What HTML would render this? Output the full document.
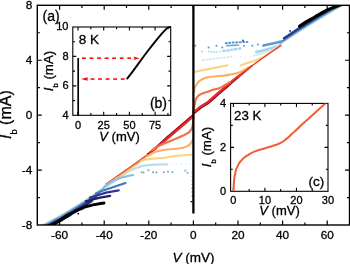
<!DOCTYPE html>
<html><head><meta charset="utf-8"><style>
html,body{margin:0;padding:0;background:#fff;width:350px;height:264px;overflow:hidden}
svg{display:block;will-change:transform}
text{font-family:"Liberation Sans",sans-serif;fill:#000;stroke:#000;stroke-width:0.3px;paint-order:stroke}
</style></head><body>
<svg width="350" height="264" viewBox="0 0 350 264" font-family="Liberation Sans, sans-serif"><defs><clipPath id="cm"><rect x="37.3" y="5.3" width="312.2" height="219.7"/></clipPath></defs>
<g clip-path="url(#cm)">
<path d="M279.00,45.45 L283.00,42.82 L287.00,40.18 L291.00,37.55 L295.00,34.92 L299.00,32.29 L303.00,29.76 L307.00,27.25 L311.00,24.74 L315.00,22.23 L319.00,19.82 L323.00,17.45 L327.00,15.08 L331.00,12.71 L335.00,10.39 L339.00,8.11 L343.00,5.84 L347.00,3.59 L351.00,1.36 L352.00,0.80" fill="none" stroke="#ffffbf" stroke-width="0.8" stroke-linejoin="round" stroke-linecap="round" />
<path d="M279.00,44.95 L283.00,42.32 L287.00,39.68 L291.00,37.05 L295.00,34.42 L299.00,31.79 L303.00,29.26 L307.00,26.75 L311.00,24.24 L315.00,21.73 L319.00,19.32 L323.00,16.95 L327.00,14.58 L331.00,12.21 L335.00,9.89 L339.00,7.61 L343.00,5.34 L347.00,3.09 L351.00,0.86 L352.00,0.30" fill="none" stroke="#abd9e9" stroke-width="1.1" stroke-linejoin="round" stroke-linecap="round" />
<path d="M280.00,43.39 L284.00,40.76 L288.00,38.13 L292.00,35.50 L296.00,32.87 L300.00,30.25 L304.00,27.74 L308.00,25.22 L312.00,22.71 L316.00,20.20 L320.00,17.83 L324.00,15.46 L328.00,13.09 L332.00,10.71 L336.00,8.42 L340.00,6.15 L344.00,3.87 L348.00,1.63 L352.00,-0.60" fill="none" stroke="#74add1" stroke-width="1.2" stroke-linejoin="round" stroke-linecap="round" />
<path d="M281.00,41.73 L285.00,39.10 L289.00,36.47 L293.00,33.84 L297.00,31.21 L301.00,28.62 L305.00,26.11 L309.00,23.60 L313.00,21.08 L317.00,18.61 L321.00,16.24 L325.00,13.86 L329.00,11.49 L333.00,9.13 L337.00,6.85 L341.00,4.58 L345.00,2.30 L349.00,0.07 L352.00,-1.60" fill="none" stroke="#4575b4" stroke-width="1.4" stroke-linejoin="round" stroke-linecap="round" />
<path d="M284.00,38.26 L288.00,35.63 L292.00,33.00 L296.00,30.37 L300.00,27.75 L304.00,25.24 L308.00,22.72 L312.00,20.21 L316.00,17.70 L320.00,15.33 L324.00,12.96 L328.00,10.59 L332.00,8.21 L336.00,5.92 L340.00,3.65 L344.00,1.37 L348.00,-0.87 L352.00,-3.10" fill="none" stroke="#283a8c" stroke-width="2.4" stroke-linejoin="round" stroke-linecap="round" />
<path d="M299.60,26.30 C301.40,25.07 301.30,24.90 305.00,22.60 C308.70,20.30 305.93,22.13 310.70,19.40 C315.47,16.67 313.57,17.63 319.30,14.40 C325.03,11.17 322.17,12.40 327.90,9.70 C333.63,7.00 331.80,8.10 336.50,6.30 C341.20,4.50 340.17,4.97 342.00,4.30" fill="none" stroke="#000" stroke-width="3.2" stroke-linejoin="round" stroke-linecap="round" />
<circle cx="290.1" cy="30.9" r="1" fill="#313695"/>
<path d="M104.42,187.96 C105.39,187.29 100.06,190.99 107.32,185.95 C114.59,180.92 119.52,177.51 126.23,172.85 C132.93,168.20 125.51,173.02 127.44,172.00 C129.36,170.98 128.48,171.33 132.00,169.80 C135.52,168.27 134.33,168.70 138.00,167.40 C141.67,166.10 139.70,166.63 143.00,165.90 C146.30,165.17 143.57,165.63 147.90,165.20 C152.23,164.77 149.63,164.90 156.00,164.60 C162.37,164.30 163.33,164.40 167.00,164.30" fill="none" stroke="#b9dcef" stroke-width="2.3" stroke-linejoin="round" stroke-linecap="round" />
<path d="M112.80,180.82 L125.60,171.95 L138.81,162.64 L142.83,159.66" fill="none" stroke="#fdd27f" stroke-width="1.8" stroke-linejoin="round" stroke-linecap="round" />
<path d="M135.29,164.02 L138.30,161.90 L155.30,149.30 L156.32,148.45" fill="none" stroke="#f46d43" stroke-width="1.8" stroke-linejoin="round" stroke-linecap="round" />
<path d="M118.46,176.17 L125.26,171.46 L138.47,162.15 L148.48,154.73" fill="none" stroke="#fdae61" stroke-width="1.6" stroke-linejoin="round" stroke-linecap="round" />
<path d="M38.00,226.40 L42.00,224.46 L46.00,222.46 L50.00,220.39 L54.00,218.25 L58.00,216.06 L62.00,213.80 L66.00,211.49 L70.00,209.12 L74.00,206.67 L78.00,204.16 L82.00,201.60 L86.00,198.97 L90.00,196.29 L94.00,193.53 L98.00,190.71 L102.00,187.83 L105.00,185.64" fill="none" stroke="#ffffbf" stroke-width="0.8" stroke-linejoin="round" stroke-linecap="round" />
<path d="M38.00,227.10 L42.00,225.16 L46.00,223.16 L50.00,221.09 L54.00,218.95 L58.00,216.76 L62.00,214.50 L66.00,212.19 L70.00,209.82 L74.00,207.37 L78.00,204.86 L82.00,202.30 L86.00,199.67 L90.00,196.99 L94.00,194.23 L98.00,191.41 L102.00,188.53 L105.00,186.34" fill="none" stroke="#abd9e9" stroke-width="1.2" stroke-linejoin="round" stroke-linecap="round" />
<path d="M38.00,228.10 L42.00,226.16 L46.00,224.16 L50.00,222.09 L54.00,219.95 L58.00,217.76 L62.00,215.50 L66.00,213.19 L70.00,210.82 L74.00,208.37 L78.00,205.86 L82.00,203.30 L86.00,200.67 L90.00,197.99 L94.00,195.23 L98.00,192.41 L102.00,189.53 L104.00,188.08" fill="none" stroke="#74add1" stroke-width="1.4" stroke-linejoin="round" stroke-linecap="round" />
<path d="M38.00,229.30 L42.00,227.36 L46.00,225.36 L50.00,223.29 L54.00,221.15 L58.00,218.96 L62.00,216.70 L66.00,214.39 L70.00,212.02 L74.00,209.57 L78.00,207.06 L82.00,204.50 L86.00,201.87 L90.00,199.19 L94.00,196.43 L98.00,193.61 L100.00,192.19" fill="none" stroke="#4575b4" stroke-width="1.8" stroke-linejoin="round" stroke-linecap="round" />
<path d="M38.00,231.00 L42.00,229.06 L46.00,227.06 L50.00,224.99 L54.00,222.85 L58.00,220.66 L62.00,218.40 L66.00,216.09 L70.00,213.72 L74.00,211.27 L78.00,208.76 L82.00,206.20 L86.00,203.57 L90.00,200.89 L94.00,198.13 L96.00,196.73" fill="none" stroke="#313695" stroke-width="2.4" stroke-linejoin="round" stroke-linecap="round" />
<path d="M60.00,220.85 L64.00,218.55 L68.00,216.20 L72.00,213.80 L76.00,211.33 L80.00,208.80 L84.00,206.19 L88.00,203.53 L92.00,200.81" fill="none" stroke="#1e2a78" stroke-width="2.4" stroke-linejoin="round" stroke-linecap="round" />
<path d="M105.90,183.90 L124.80,170.80 L138.00,161.50 L155.00,148.90 L170.00,136.40 L184.00,124.40 L193.40,116.30" fill="none" stroke="#e4482f" stroke-width="1.1" stroke-linejoin="round" stroke-linecap="round" />
<path d="M104.00,187.00 C106.00,185.53 105.33,185.33 110.00,182.60 C114.67,179.87 112.67,180.83 118.00,178.80 C123.33,176.77 120.93,177.80 126.00,176.50 C131.07,175.20 130.80,175.43 133.20,174.90" fill="none" stroke="#87bde0" stroke-width="2.0" stroke-linejoin="round" stroke-linecap="round" />
<path d="M96.00,193.40 L98.20,192.40 L112.00,187.50 L125.50,183.00" fill="none" stroke="#4575b4" stroke-width="2.0" stroke-linejoin="round" stroke-linecap="round" />
<path d="M90.00,197.60 L93.10,196.70 L106.00,192.60 L118.70,190.40" fill="none" stroke="#313695" stroke-width="2.2" stroke-linejoin="round" stroke-linecap="round" />
<path d="M86.00,201.20 L88.00,200.80 L100.00,197.60 L110.20,195.80" fill="none" stroke="#1e2466" stroke-width="2.2" stroke-linejoin="round" stroke-linecap="round" />
<path d="M40.00,231.00 C41.33,230.20 41.33,230.07 44.00,228.60 C46.67,227.13 45.33,227.93 48.00,226.60 C50.67,225.27 49.33,225.90 52.00,224.60 C54.67,223.30 53.33,224.10 56.00,222.70 C58.67,221.30 57.33,222.03 60.00,220.40 C62.67,218.77 60.67,219.87 64.00,217.80 C67.33,215.73 68.00,215.40 70.00,214.20" fill="none" stroke="#000" stroke-width="3.4" stroke-linejoin="round" stroke-linecap="round" />
<path d="M64.00,217.80 C66.67,216.20 66.67,215.87 72.00,213.00 C77.33,210.13 74.67,211.47 80.00,209.20 C85.33,206.93 82.67,207.83 88.00,206.20 C93.33,204.57 90.67,205.37 96.00,204.30 C101.33,203.23 101.33,203.43 104.00,203.00" fill="none" stroke="#000" stroke-width="2.9" stroke-linejoin="round" stroke-linecap="round" />
<circle cx="78.3" cy="213.7" r="0.9" fill="#000"/>
<path d="M148.00,154.09 L149.69,152.71 L151.37,151.33 L153.06,149.94 L154.74,148.57 L156.33,147.11 L157.94,145.65 L159.54,144.18 L161.14,142.71 L162.74,141.25 L164.35,139.78 L165.95,138.32 L167.57,136.87 L169.23,135.48 L170.77,134.16 L172.33,132.82 L173.89,131.49 L175.44,130.16 L177.00,128.82 L178.55,127.49 L180.11,126.16 L181.66,124.82 L183.22,123.49 L184.78,122.14 L186.35,120.79 L187.92,119.44 L189.48,118.09 L191.05,116.74 L192.62,115.39" fill="none" stroke="#a50026" stroke-width="2.0" stroke-linejoin="round" stroke-linecap="round" />
<path d="M194.15,113.24 L195.80,111.91 L197.45,110.59 L199.10,109.26 L200.70,107.98 L202.65,106.74 L204.65,105.46 L206.65,104.19 L208.72,102.86 L210.44,101.34 L212.08,99.88 L213.72,98.42 L215.36,96.96 L216.99,95.50 L218.65,94.09 L220.31,92.67 L221.98,91.25 L223.65,89.82 L225.31,88.40 L226.98,86.98 L228.65,85.56 L230.26,84.07 L231.85,82.59 L233.47,81.20 L235.12,79.80 L236.76,78.40 L238.40,77.00 L240.05,75.59 L241.69,74.19 L243.33,72.79 L244.97,71.38 L246.62,69.98 L248.26,68.58 L250.00,67.19" fill="none" stroke="#a50026" stroke-width="2.0" stroke-linejoin="round" stroke-linecap="round" />
<path d="M150.00,152.61 L155.00,148.90 L170.00,136.40 L184.00,124.40 L193.40,116.30" fill="none" stroke="#d73027" stroke-width="1.7" stroke-linejoin="round" stroke-linecap="round" />
<path d="M193.40,112.30 L200.00,107.00 L208.00,101.90 L216.20,94.60 L231.20,81.80 L248.20,68.50 L252.00,65.74" fill="none" stroke="#d73027" stroke-width="1.7" stroke-linejoin="round" stroke-linecap="round" />
<path d="M162.00,143.07 L170.00,136.40 L184.00,124.40 L193.40,116.30" fill="none" stroke="#d73027" stroke-width="2.1" stroke-linejoin="round" stroke-linecap="round" />
<path d="M193.40,112.30 L200.00,107.00 L208.00,101.90 L216.20,94.60 L231.20,81.80 L240.00,74.92" fill="none" stroke="#d73027" stroke-width="2.1" stroke-linejoin="round" stroke-linecap="round" />
<path d="M193.40,113.00 C193.57,111.50 193.43,111.50 193.90,108.50 C194.37,105.50 194.13,107.00 194.80,104.00 C195.47,101.00 194.97,101.97 195.90,99.50 C196.83,97.03 196.13,98.27 197.60,96.60 C199.07,94.93 197.97,95.80 200.30,94.50 C202.63,93.20 201.03,94.03 204.60,92.70 C208.17,91.37 207.13,91.73 211.00,90.50 C214.87,89.27 213.20,89.87 216.20,89.00 C219.20,88.13 216.73,89.40 220.00,87.90 C223.27,86.40 222.67,86.47 226.00,84.50 C229.33,82.53 228.67,82.83 230.00,82.00" fill="none" stroke="#f46d43" stroke-width="2.1" stroke-linejoin="round" stroke-linecap="round" />
<path d="M193.40,118.00 C193.30,118.67 193.43,117.20 193.10,120.00 C192.77,122.80 193.33,122.83 192.40,126.40 C191.47,129.97 192.20,128.30 190.30,130.70 C188.40,133.10 189.83,131.67 186.70,133.60 C183.57,135.53 185.70,134.30 180.90,136.50 C176.10,138.70 178.07,137.77 172.30,140.20 C166.53,142.63 168.70,141.53 163.60,143.80 C158.50,146.07 160.87,144.87 157.00,147.00 C153.13,149.13 153.67,149.13 152.00,150.20" fill="none" stroke="#f46d43" stroke-width="2.1" stroke-linejoin="round" stroke-linecap="round" />
<path d="M194.20,91.50 C194.40,90.33 194.03,90.30 194.80,88.00 C195.57,85.70 195.27,86.60 196.50,84.60 C197.73,82.60 197.23,83.43 198.50,82.00 C199.77,80.57 198.47,81.47 200.30,80.30 C202.13,79.13 201.33,79.53 204.00,78.50 C206.67,77.47 204.23,77.97 208.30,77.20 C212.37,76.43 211.63,76.67 216.20,76.20 C220.77,75.73 217.40,76.33 222.00,75.80 C226.60,75.27 224.33,75.73 230.00,74.60 C235.67,73.47 234.33,73.93 239.00,72.40 C243.67,70.87 240.57,71.80 244.00,70.00 C247.43,68.20 247.53,68.00 249.30,67.00" fill="none" stroke="#fdae61" stroke-width="2.1" stroke-linejoin="round" stroke-linecap="round" />
<path d="M192.80,139.50 C192.20,140.67 192.93,140.73 191.00,143.00 C189.07,145.27 190.67,144.57 187.00,146.30 C183.33,148.03 185.67,147.20 180.00,148.20 C174.33,149.20 176.67,148.43 170.00,149.30 C163.33,150.17 165.67,149.57 160.00,150.80 C154.33,152.03 157.33,151.17 153.00,153.00 C148.67,154.83 149.00,155.20 147.00,156.30" fill="none" stroke="#fdae61" stroke-width="2.1" stroke-linejoin="round" stroke-linecap="round" />
<path d="M194.50,72.00 C196.33,71.60 194.83,71.83 200.00,70.80 C205.17,69.77 204.00,70.07 210.00,68.90 C216.00,67.73 213.00,68.30 218.00,67.30 C223.00,66.30 221.83,66.57 225.00,65.90 C228.17,65.23 226.67,65.50 227.50,65.30" fill="none" stroke="#fdd27f" stroke-width="2.1" stroke-linejoin="round" stroke-linecap="round" />
<path d="M240.70,65.40 C243.13,64.53 243.23,64.43 248.00,62.80 C252.77,61.17 250.67,62.10 255.00,60.50 C259.33,58.90 259.00,58.83 261.00,58.00" fill="none" stroke="#fdd27f" stroke-width="2.0" stroke-linejoin="round" stroke-linecap="round" />
<path d="M192.00,154.40 C188.00,154.80 187.33,154.80 180.00,155.60 C172.67,156.40 175.67,156.00 170.00,156.80 C164.33,157.60 168.00,157.40 163.00,158.00 C158.00,158.60 160.00,158.17 155.00,158.60 C150.00,159.03 152.00,158.73 148.00,159.30 C144.00,159.87 145.33,159.67 143.00,160.30 C140.67,160.93 141.67,160.90 141.00,161.20" fill="none" stroke="#fdd27f" stroke-width="2.0" stroke-linejoin="round" stroke-linecap="round" />
<path d="M203.00,60.20 L215.00,58.60 L226.00,57.40 L233.80,56.30" fill="none" stroke="#d4ecf5" stroke-width="2.0" stroke-linejoin="round" stroke-linecap="round" stroke-dasharray="1.0 2.5"/>
<circle cx="241.0" cy="57.0" r="0.9" fill="#e0f3f8"/>
<circle cx="245.0" cy="56.8" r="0.9" fill="#e0f3f8"/>
<circle cx="250.0" cy="57.0" r="0.9" fill="#e0f3f8"/>
<circle cx="253.7" cy="56.5" r="0.9" fill="#e0f3f8"/>
<path d="M254.00,55.40 L262.00,53.40 L270.00,50.80 L278.80,47.60" fill="none" stroke="#d7eef7" stroke-width="2.2" stroke-linejoin="round" stroke-linecap="round" />
<circle cx="172.0" cy="164.3" r="0.9" fill="#e0f3f8"/>
<circle cx="176.0" cy="164.0" r="0.9" fill="#e0f3f8"/>
<circle cx="181.0" cy="164.2" r="0.9" fill="#e0f3f8"/>
<circle cx="186.0" cy="163.8" r="0.9" fill="#e0f3f8"/>
<circle cx="190.0" cy="164.0" r="0.9" fill="#e0f3f8"/>
<circle cx="202.0" cy="51.5" r="0.9" fill="#abd9e9"/>
<circle cx="208.6" cy="51.5" r="0.9" fill="#abd9e9"/>
<circle cx="211.5" cy="52.0" r="0.9" fill="#abd9e9"/>
<circle cx="213.9" cy="52.0" r="0.9" fill="#abd9e9"/>
<circle cx="216.5" cy="52.0" r="0.9" fill="#abd9e9"/>
<circle cx="220.0" cy="51.6" r="0.9" fill="#abd9e9"/>
<circle cx="224.0" cy="51.2" r="0.9" fill="#abd9e9"/>
<path d="M223.40,51.00 L228.00,50.40 L234.00,49.40 L241.70,48.20" fill="none" stroke="#a6d3ec" stroke-width="2.4" stroke-linejoin="round" stroke-linecap="round" stroke-dasharray="1.2 2.7"/>
<path d="M256.20,52.00 L264.00,50.20 L272.00,48.00 L279.80,45.60" fill="none" stroke="#a6d3ec" stroke-width="2.6" stroke-linejoin="round" stroke-linecap="round" />
<circle cx="195.3" cy="45.7" r="1.0" fill="#5b93c9"/>
<circle cx="208.6" cy="47.5" r="1.0" fill="#5b93c9"/>
<circle cx="216.5" cy="45.7" r="1.0" fill="#5b93c9"/>
<circle cx="252.3" cy="45.7" r="1.0" fill="#5b93c9"/>
<circle cx="258.0" cy="44.6" r="1.0" fill="#5b93c9"/>
<path d="M225.70,43.20 L232.00,42.60 L240.00,42.20 L247.40,41.90" fill="none" stroke="#5b93c9" stroke-width="2.0" stroke-linejoin="round" stroke-linecap="round" stroke-dasharray="1.0 2.5"/>
<path d="M226.90,45.60 L232.00,45.40 L238.30,45.10" fill="none" stroke="#74add1" stroke-width="1.8" stroke-linejoin="round" stroke-linecap="round" />
<circle cx="242.9" cy="40.6" r="1.1" fill="#3c5fa8"/>
<circle cx="222.3" cy="47.4" r="1.0" fill="#5b93c9"/>
<circle cx="244.0" cy="45.7" r="1.0" fill="#5b93c9"/>
<path d="M263.40,45.60 L268.00,44.60 L274.00,43.20 L280.90,41.60" fill="none" stroke="#5b9bd0" stroke-width="2.6" stroke-linejoin="round" stroke-linecap="round" />
<circle cx="141.6" cy="172.3" r="1.0" fill="#6aa5d6"/>
<circle cx="143.5" cy="172.4" r="1.0" fill="#6aa5d6"/>
<circle cx="148.4" cy="170.3" r="1.0" fill="#6aa5d6"/>
<circle cx="153.0" cy="172.3" r="1.0" fill="#6aa5d6"/>
<circle cx="156.4" cy="172.4" r="1.0" fill="#6aa5d6"/>
<circle cx="163.9" cy="172.3" r="1.0" fill="#6aa5d6"/>
<circle cx="168.0" cy="171.8" r="1.0" fill="#6aa5d6"/>
<circle cx="172.5" cy="172.2" r="1.0" fill="#6aa5d6"/>
<circle cx="185.3" cy="170.7" r="1.1" fill="#8cc0e0"/>
<circle cx="187.5" cy="172.8" r="1.1" fill="#8cc0e0"/>
<circle cx="192.0" cy="172.5" r="0.8" fill="#abd9e9"/>
<circle cx="192.0" cy="176.5" r="0.8" fill="#abd9e9"/>
<circle cx="192.1" cy="180.5" r="0.8" fill="#74add1"/>
<circle cx="192.1" cy="184.5" r="0.8" fill="#74add1"/>
<circle cx="192.2" cy="188.5" r="0.8" fill="#4575b4"/>
<circle cx="192.2" cy="192.0" r="0.8" fill="#4575b4"/>
<circle cx="192.3" cy="196.0" r="0.8" fill="#313695"/>
<path d="M190.6,201.7 h2" stroke="#000" stroke-width="1.3"/>
<path d="M257.24,60.32 L260.66,57.83 L278.26,45.72" fill="none" stroke="#fee8a8" stroke-width="1.0" stroke-linejoin="round" stroke-linecap="round" />
<path d="M238.00,76.48 L248.20,68.50 L261.40,58.90 L280.30,45.90 L281.00,45.42" fill="none" stroke="#e0402c" stroke-width="1.3" stroke-linejoin="round" stroke-linecap="round" />
<path d="M193.4,5.1 V213.6" stroke="#000" stroke-width="2.3" fill="none"/>
</g>
<rect x="37.3" y="5.3" width="312.2" height="219.7" fill="none" stroke="#000" stroke-width="1.4"/>
<path d="M59.60,225.00v-4.5M59.60,5.30v4.5M104.20,225.00v-4.5M104.20,5.30v4.5M148.80,225.00v-4.5M148.80,5.30v4.5M193.40,225.00v-4.5M193.40,5.30v4.5M238.00,225.00v-4.5M238.00,5.30v4.5M282.60,225.00v-4.5M282.60,5.30v4.5M327.20,225.00v-4.5M327.20,5.30v4.5M81.90,225.00v-2.6M81.90,5.30v2.6M126.50,225.00v-2.6M126.50,5.30v2.6M171.10,225.00v-2.6M171.10,5.30v2.6M215.70,225.00v-2.6M215.70,5.30v2.6M260.30,225.00v-2.6M260.30,5.30v2.6M304.90,225.00v-2.6M304.90,5.30v2.6M37.30,170.07h4.5M349.50,170.07h-4.5M37.30,115.15h4.5M349.50,115.15h-4.5M37.30,60.23h4.5M349.50,60.23h-4.5M37.30,197.53h2.6M349.50,197.53h-2.6M37.30,142.61h2.6M349.50,142.61h-2.6M37.30,87.69h2.6M349.50,87.69h-2.6M37.30,32.77h2.6M349.50,32.77h-2.6" stroke="#000" stroke-width="1.2" fill="none"/>
<text x="59.60" y="238.90" font-size="11.8" text-anchor="middle" >-60</text>
<text x="104.20" y="238.90" font-size="11.8" text-anchor="middle" >-40</text>
<text x="148.80" y="238.90" font-size="11.8" text-anchor="middle" >-20</text>
<text x="193.40" y="238.90" font-size="11.8" text-anchor="middle" >0</text>
<text x="238.00" y="238.90" font-size="11.8" text-anchor="middle" >20</text>
<text x="282.60" y="238.90" font-size="11.8" text-anchor="middle" >40</text>
<text x="327.20" y="238.90" font-size="11.8" text-anchor="middle" >60</text>
<text x="32.30" y="9.41" font-size="11.8" text-anchor="end" >8</text>
<text x="32.30" y="64.33" font-size="11.8" text-anchor="end" >4</text>
<text x="32.30" y="119.25" font-size="11.8" text-anchor="end" >0</text>
<text x="32.30" y="174.17" font-size="11.8" text-anchor="end" >-4</text>
<text x="32.30" y="229.09" font-size="11.8" text-anchor="end" >-8</text>
<text x="193.50" y="261.60" font-size="13.5" text-anchor="middle"><tspan font-style="italic">V</tspan> (mV)</text>
<text transform="translate(11.40,114.60) rotate(-90)" font-size="16" text-anchor="middle"><tspan font-style="italic">I</tspan><tspan font-size="9.28" dy="5.76">b</tspan><tspan dy="-5.76"> (mA)</tspan></text>
<text x="42.60" y="20.60" font-size="14" text-anchor="start" >(a)</text>
<rect x="72.8" y="27.0" width="97.90" height="88.30" fill="white" stroke="#000" stroke-width="1.1"/>
<path d="M78.00,115.30v-3.5M78.00,27.00v3.5M103.70,115.30v-3.5M103.70,27.00v3.5M129.40,115.30v-3.5M129.40,27.00v3.5M155.10,115.30v-3.5M155.10,27.00v3.5M90.85,115.30v-2.2M90.85,27.00v2.2M116.55,115.30v-2.2M116.55,27.00v2.2M142.25,115.30v-2.2M142.25,27.00v2.2M167.95,115.30v-2.2M167.95,27.00v2.2M72.80,85.86h3.5M170.70,85.86h-3.5M72.80,56.42h3.5M170.70,56.42h-3.5M72.80,100.58h2.2M170.70,100.58h-2.2M72.80,71.14h2.2M170.70,71.14h-2.2M72.80,41.70h2.2M170.70,41.70h-2.2" stroke="#000" stroke-width="1.1" fill="none"/>
<path d="M78.2,58 V116" stroke="#000" stroke-width="1.7" fill="none"/>
<path d="M127.20,78.60 L132.00,72.30 L137.00,65.60 L142.00,58.70 L147.00,52.00 L152.00,45.60 L157.00,39.40 L162.00,33.40 L167.00,28.20 L170.20,26.90" fill="none" stroke="#000" stroke-width="1.9" stroke-linejoin="round" stroke-linecap="round" />
<rect x="82.00" y="57.4" width="3.8" height="1.6" fill="#ff0a0a"/>
<rect x="89.55" y="57.4" width="3.8" height="1.6" fill="#ff0a0a"/>
<rect x="97.10" y="57.4" width="3.8" height="1.6" fill="#ff0a0a"/>
<rect x="104.65" y="57.4" width="3.8" height="1.6" fill="#ff0a0a"/>
<rect x="112.20" y="57.4" width="3.8" height="1.6" fill="#ff0a0a"/>
<rect x="119.75" y="57.4" width="3.8" height="1.6" fill="#ff0a0a"/>
<rect x="127.30" y="57.4" width="3.8" height="1.6" fill="#ff0a0a"/>
<path d="M133.6,56.5 L139.7,58.2 L133.6,59.9 L134.4,58.2z" fill="#ff0a0a"/>
<rect x="120.80" y="78.25" width="3.8" height="1.6" fill="#ff0a0a"/>
<rect x="113.25" y="78.25" width="3.8" height="1.6" fill="#ff0a0a"/>
<rect x="105.70" y="78.25" width="3.8" height="1.6" fill="#ff0a0a"/>
<rect x="98.15" y="78.25" width="3.8" height="1.6" fill="#ff0a0a"/>
<rect x="90.60" y="78.25" width="3.8" height="1.6" fill="#ff0a0a"/>
<path d="M81.0,79.05 L87.6,77.3 L87.6,80.8z" fill="#ff0a0a"/>
<text x="78.00" y="128.60" font-size="11" text-anchor="middle" >0</text>
<text x="103.70" y="128.60" font-size="11" text-anchor="middle" >25</text>
<text x="129.40" y="128.60" font-size="11" text-anchor="middle" >50</text>
<text x="155.10" y="128.60" font-size="11" text-anchor="middle" >75</text>
<text x="68.50" y="30.48" font-size="11" text-anchor="end" >10</text>
<text x="68.50" y="59.92" font-size="11" text-anchor="end" >8</text>
<text x="68.50" y="89.36" font-size="11" text-anchor="end" >6</text>
<text x="68.50" y="118.80" font-size="11" text-anchor="end" >4</text>
<text x="119.50" y="141.10" font-size="13" text-anchor="middle"><tspan font-style="italic">V</tspan> (mV)</text>
<text transform="translate(53.00,71.05) rotate(-90)" font-size="13.3" text-anchor="middle"><tspan font-style="italic">I</tspan><tspan font-size="7.71" dy="4.79">b</tspan><tspan dy="-4.79"> (mA)</tspan></text>
<text x="78.70" y="44.20" font-size="13.5" text-anchor="start" >8 K</text>
<text x="149.90" y="108.20" font-size="14" text-anchor="start" >(b)</text>
<rect x="230.6" y="103.4" width="97.40" height="87.90" fill="white" stroke="#000" stroke-width="1.1"/>
<path d="M233.40,191.30v-3.5M233.40,103.40v3.5M264.93,191.30v-3.5M264.93,103.40v3.5M296.46,191.30v-3.5M296.46,103.40v3.5M249.17,191.30v-2.2M249.17,103.40v2.2M280.69,191.30v-2.2M280.69,103.40v2.2M312.23,191.30v-2.2M312.23,103.40v2.2M230.60,147.34h3.5M328.00,147.34h-3.5M230.60,169.32h2.2M328.00,169.32h-2.2M230.60,125.36h2.2M328.00,125.36h-2.2" stroke="#000" stroke-width="1.1" fill="none"/>
<defs><clipPath id="cc"><rect x="230.6" y="103.4" width="97.4" height="87.9"/></clipPath></defs><g clip-path="url(#cc)">
<path d="M233.50,191.30 C233.53,190.83 233.43,193.10 233.60,189.90 C233.77,186.70 233.47,187.17 234.00,181.70 C234.53,176.23 234.03,178.60 235.20,173.50 C236.37,168.40 235.33,170.87 237.50,166.40 C239.67,161.93 238.33,163.77 241.70,160.10 C245.07,156.43 242.90,158.40 247.60,155.40 C252.30,152.40 249.93,153.47 255.80,151.10 C261.67,148.73 258.93,150.23 265.20,148.30 C271.47,146.37 269.50,147.10 274.60,145.30 C279.70,143.50 276.57,145.03 280.50,142.90 C284.43,140.77 282.47,142.03 286.40,138.90 C290.33,135.77 288.77,136.70 292.30,133.50 C295.83,130.30 292.77,133.20 297.00,129.30 C301.23,125.40 299.17,127.13 305.00,121.80 C310.83,116.47 308.83,118.40 314.50,113.30 C320.17,108.20 317.33,110.67 322.00,106.50 C326.67,102.33 326.33,102.70 328.50,100.80" fill="none" stroke="#f25d35" stroke-width="2.0" stroke-linejoin="round" stroke-linecap="round" />
</g>
<text x="233.40" y="204.20" font-size="11" text-anchor="middle" >0</text>
<text x="264.93" y="204.20" font-size="11" text-anchor="middle" >10</text>
<text x="296.46" y="204.20" font-size="11" text-anchor="middle" >20</text>
<text x="327.99" y="204.20" font-size="11" text-anchor="middle" >30</text>
<text x="226.10" y="106.78" font-size="11" text-anchor="end" >4</text>
<text x="226.10" y="150.74" font-size="11" text-anchor="end" >2</text>
<text x="226.10" y="194.70" font-size="11" text-anchor="end" >0</text>
<text x="279.50" y="215.40" font-size="13" text-anchor="middle"><tspan font-style="italic">V</tspan> (mV)</text>
<text transform="translate(211.10,147.00) rotate(-90)" font-size="13.3" text-anchor="middle"><tspan font-style="italic">I</tspan><tspan font-size="7.71" dy="4.79">b</tspan><tspan dy="-4.79"> (mA)</tspan></text>
<text x="234.10" y="119.60" font-size="13.3" text-anchor="start" >23 K</text>
<text x="308.60" y="186.40" font-size="13.5" text-anchor="start" >(c)</text></svg>
</body></html>
